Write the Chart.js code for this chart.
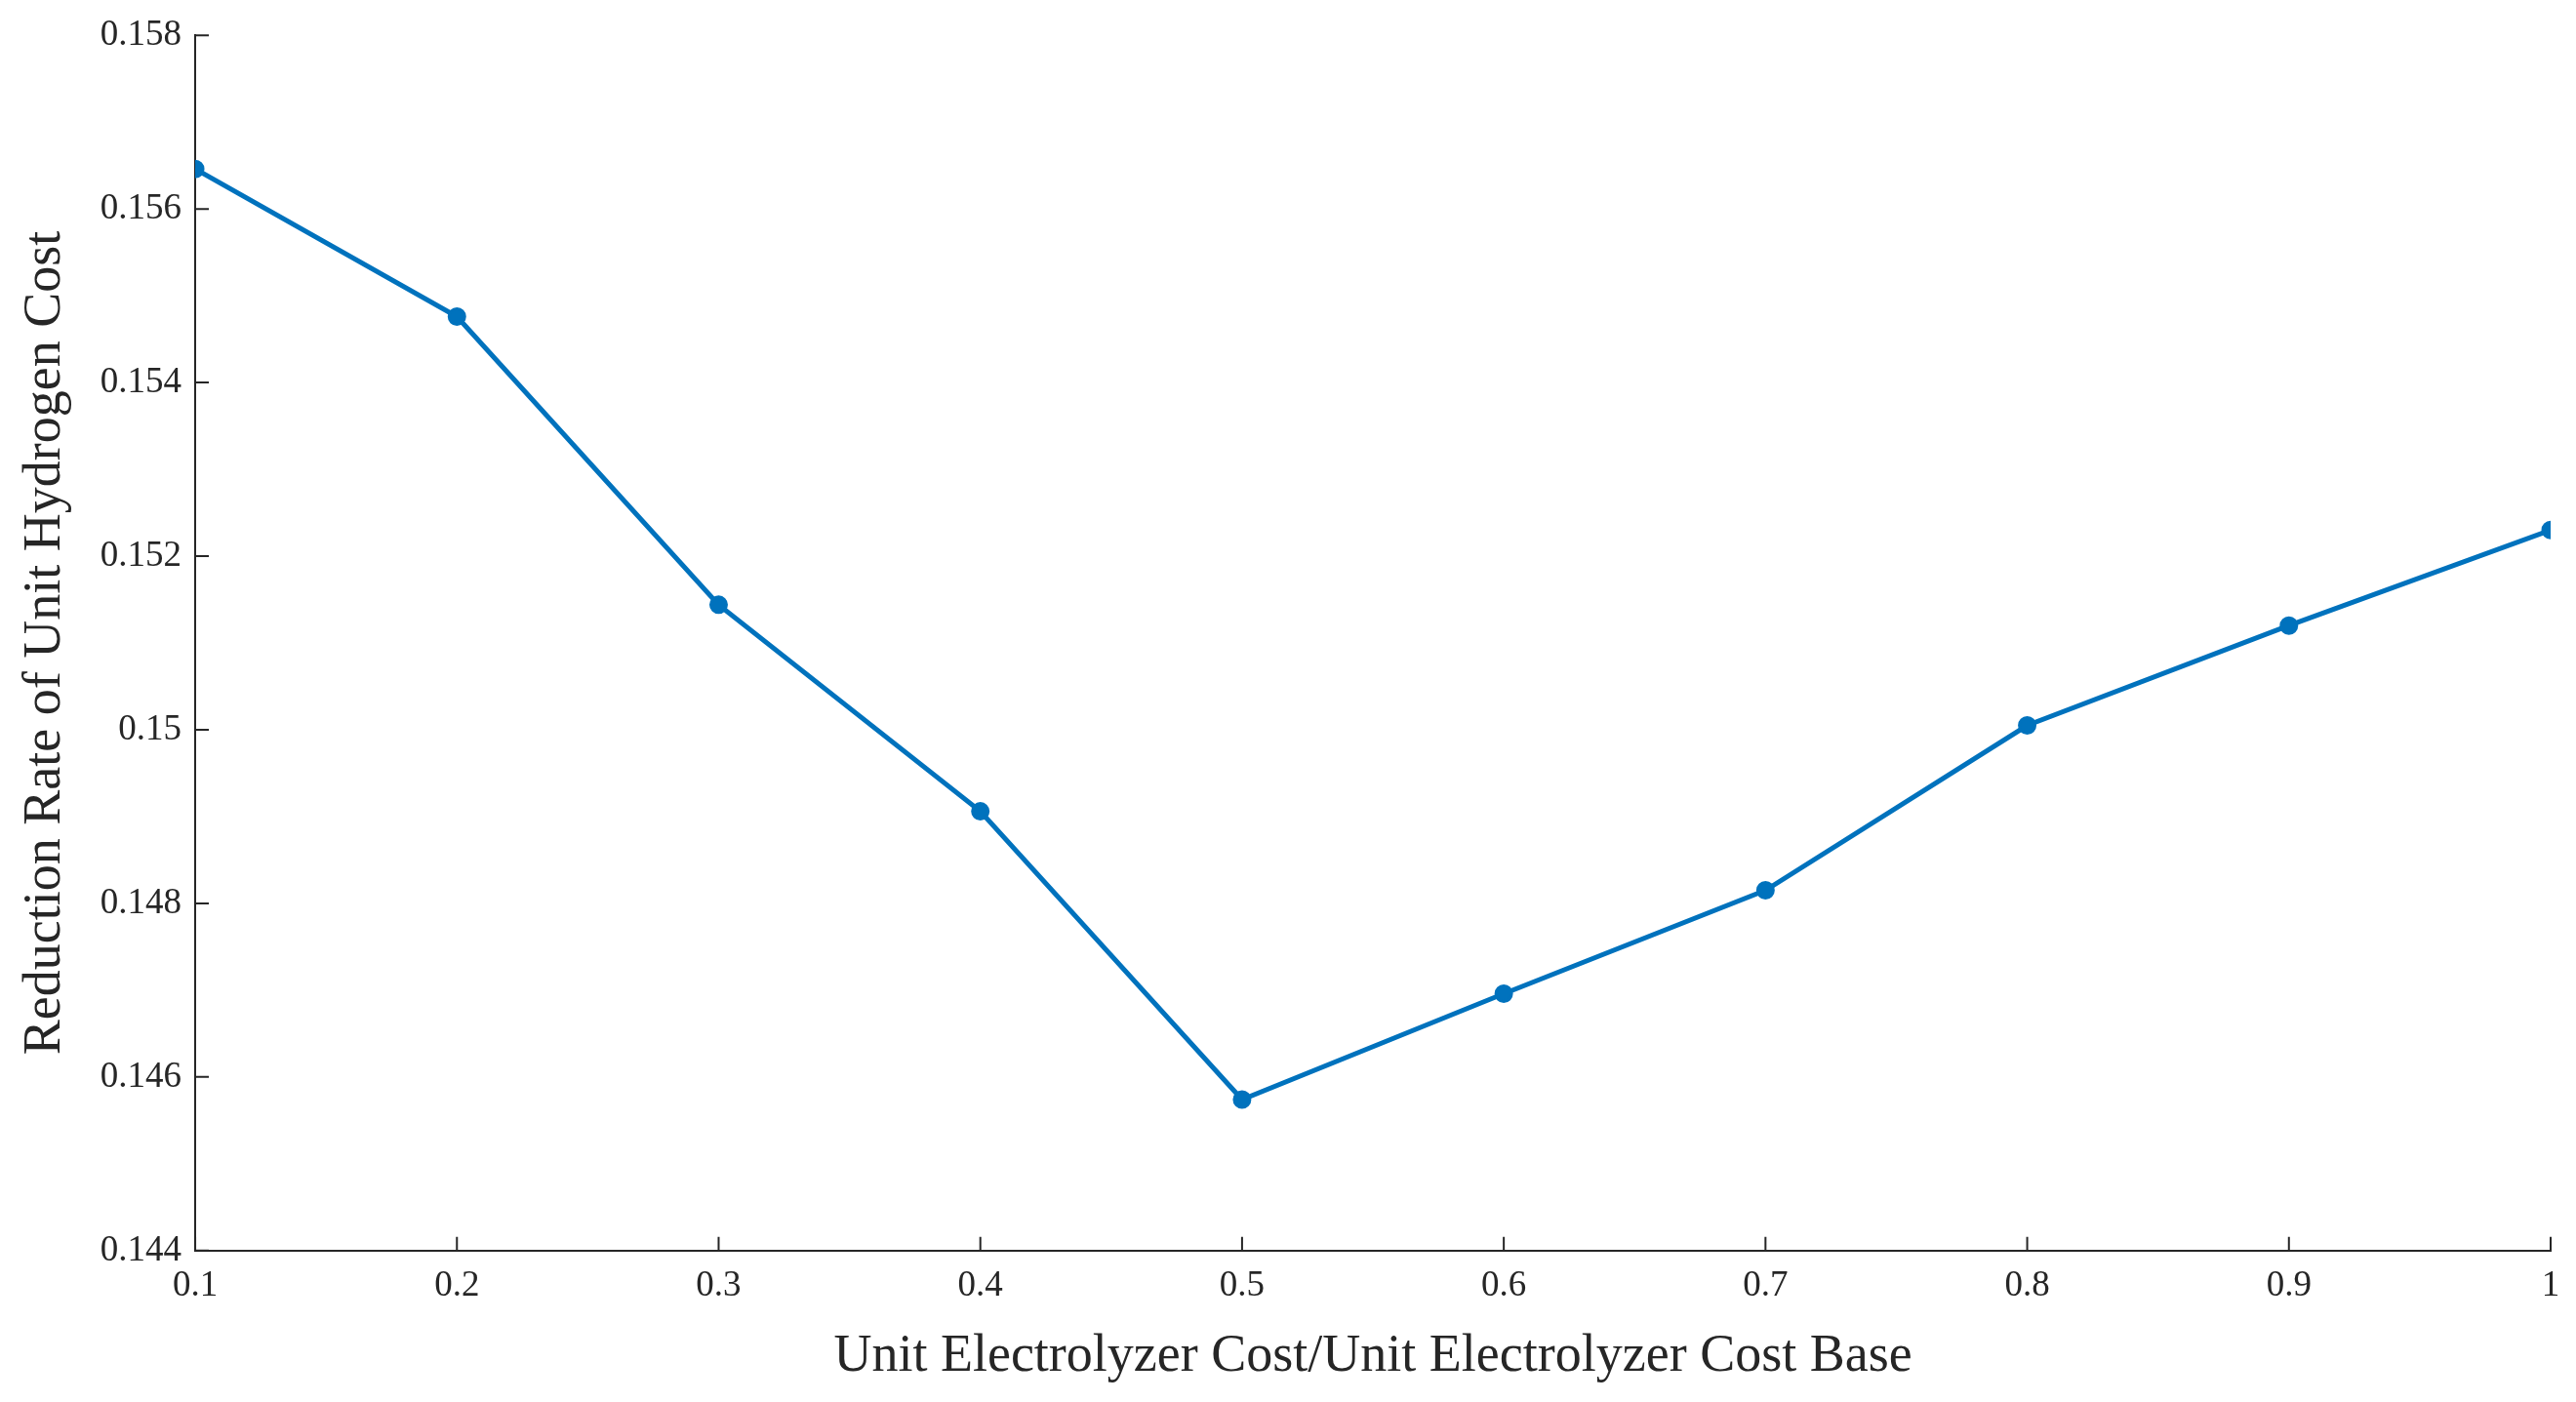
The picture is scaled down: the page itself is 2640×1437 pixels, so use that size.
<!DOCTYPE html>
<html>
<head>
<meta charset="utf-8">
<script src="https://cdn.jsdelivr.net/npm/chart.js@4/dist/chart.umd.min.js"></script>
<style>
  html, body { margin: 0; padding: 0; background: #fff; }
  #wrap { width: 2640px; height: 1437px; }
</style>
</head>
<body>
<div id="wrap"><canvas id="chart"></canvas></div>
<script>
// Data
const costRatio = [0.1, 0.2, 0.3, 0.4, 0.5, 0.6, 0.7, 0.8, 0.9, 1];
const reductionRate = [0.15646, 0.15476, 0.15144, 0.14906, 0.14574, 0.14696, 0.14815, 0.15005, 0.15120, 0.15230];
const yTicks = [0.144, 0.146, 0.148, 0.15, 0.152, 0.154, 0.156, 0.158];

const axisColor = '#262626';
const lineColor = '#0072BD';
const fontFamily = '"Liberation Serif", "DejaVu Serif", serif';

// inward tick marks, matlab style
const inwardTicks = {
    id: 'inwardTicks',
    afterDraw(chart) {
        const { ctx, chartArea, scales } = chart;
        ctx.save();
        ctx.strokeStyle = axisColor;
        ctx.lineWidth = 2;
        ctx.beginPath();
        scales.x.ticks.forEach(t => {
            const px = scales.x.getPixelForValue(t.value);
            ctx.moveTo(px, chartArea.bottom);
            ctx.lineTo(px, chartArea.bottom - 14);
        });
        scales.y.ticks.forEach(t => {
            const py = scales.y.getPixelForValue(t.value);
            ctx.moveTo(chartArea.left, py);
            ctx.lineTo(chartArea.left + 14, py);
        });
        ctx.stroke();
        ctx.restore();
    }
};

const ctx = document.getElementById('chart').getContext('2d');
new Chart(ctx, {
    type: 'line',
    data: {
        datasets: [{
            data: costRatio.map((x, i) => ({ x: x, y: reductionRate[i] })),
            borderColor: lineColor,
            backgroundColor: lineColor,
            borderWidth: 5,
            pointRadius: 8,
            pointBorderWidth: 3,
            tension: 0
        }]
    },
    options: {
        responsive: true,
        maintainAspectRatio: false,
        animation: false,
        layout: { padding: { top: 30, right: 26, left: 10, bottom: 10 } },
        plugins: { legend: { display: false }, tooltip: { enabled: false } },
        scales: {
            x: {
                type: 'linear',
                min: 0.1,
                max: 1,
                afterBuildTicks: s => { s.ticks = costRatio.map(v => ({ value: v })); },
                grid: { display: false, drawTicks: false },
                border: { color: axisColor, width: 2 },
                ticks: {
                    color: axisColor,
                    padding: 14,
                    font: { family: fontFamily, size: 37 },
                    callback: v => String(v)
                },
                title: {
                    display: true,
                    text: 'Unit Electrolyzer Cost/Unit Electrolyzer Cost Base',
                    color: axisColor,
                    font: { family: fontFamily, size: 54 },
                    padding: { top: 4 }
                }
            },
            y: {
                min: 0.144,
                max: 0.158,
                afterBuildTicks: s => { s.ticks = yTicks.map(v => ({ value: v })); },
                grid: { display: false, drawTicks: false },
                border: { color: axisColor, width: 2 },
                ticks: {
                    color: axisColor,
                    padding: 14,
                    font: { family: fontFamily, size: 37 },
                    callback: v => String(+v.toFixed(3))
                },
                title: {
                    display: true,
                    text: 'Reduction Rate of Unit Hydrogen Cost',
                    color: axisColor,
                    font: { family: fontFamily, size: 54 },
                    padding: { bottom: 10 }
                }
            }
        }
    },
    plugins: [inwardTicks]
});
</script>
</body>
</html>
